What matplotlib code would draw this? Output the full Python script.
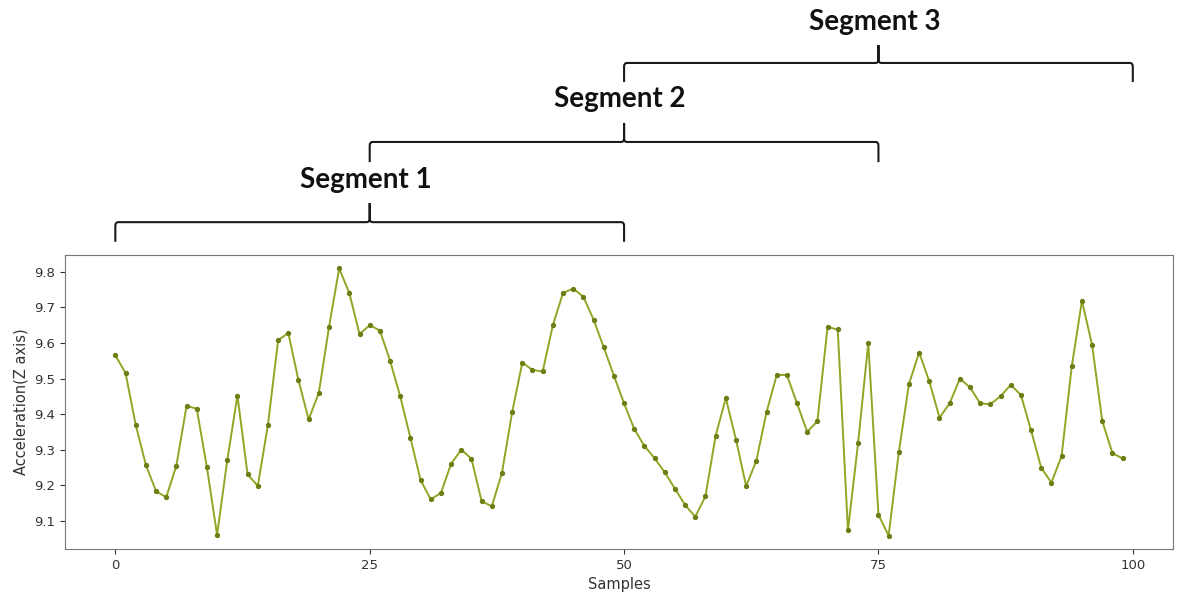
import numpy as np
import matplotlib
matplotlib.use("Agg")
import matplotlib.pyplot as plt
from matplotlib.path import Path
from matplotlib.patches import PathPatch
import matplotlib.transforms as mtransforms

# valeurs (accélération axe Z, 100 échantillons)
samples = list(range(100))
accel_z = [
    9.565, 9.516, 9.370, 9.257, 9.183, 9.166, 9.255, 9.423, 9.415, 9.250,
    9.060, 9.270, 9.452, 9.230, 9.198, 9.370, 9.608, 9.628, 9.495, 9.385,
    9.460, 9.645, 9.810, 9.740, 9.625, 9.650, 9.635, 9.550, 9.450, 9.333,
    9.214, 9.160, 9.178, 9.260, 9.300, 9.274, 9.155, 9.140, 9.235, 9.405,
    9.545, 9.524, 9.520, 9.650, 9.741, 9.753, 9.730, 9.666, 9.588, 9.508,
    9.430, 9.358, 9.310, 9.276, 9.236, 9.190, 9.144, 9.111, 9.169, 9.339,
    9.445, 9.328, 9.197, 9.269, 9.405, 9.510, 9.510, 9.430, 9.350, 9.380,
    9.645, 9.638, 9.073, 9.318, 9.600, 9.117, 9.058, 9.292, 9.485, 9.573,
    9.492, 9.390, 9.430, 9.500, 9.475, 9.430, 9.428, 9.450, 9.482, 9.454,
    9.354, 9.249, 9.207, 9.282, 9.534, 9.719, 9.594, 9.380, 9.290, 9.275,
]
x_ticks = [0, 25, 50, 75, 100]

# segments (fenêtres glissantes)
seg_labels = ["Segment 1", "Segment 2", "Segment 3"]
seg_starts = [0, 25, 50]
seg_ends = [50, 75, 100]

# hauteurs des accolades en fraction de figure : (bas, ligne, pointe, texte)
seg_levels = [(0.593, 0.626, 0.658, 0.6835),
              (0.727, 0.761, 0.793, 0.820),
              (0.862, 0.894, 0.924, 0.9495)]

fig = plt.figure(figsize=(11.77, 5.94), dpi=100)
ax = fig.add_axes([0.0552, 0.0758, 0.9414, 0.4949])

ax.plot(samples, accel_z, color="#93a524", lw=1.4, marker="o", ms=2.8,
        mfc="#6f7d14", mec="#6f7d14")
ax.set_xticks(x_ticks)
ax.set_xlabel("Samples", fontsize=10.5, color="#333333")
ax.set_ylabel("Acceleration(Z axis)", fontsize=10.5, color="#333333")
ax.tick_params(labelsize=9.5, colors="#333333")
for s in ax.spines.values():
    s.set_color("#777777")

# accolades au-dessus du graphique
trans = mtransforms.blended_transform_factory(ax.transData, fig.transFigure)
rx, ry = 0.3, 0.006
for lab, x0, x1, (yb, yl, yt, ytxt) in zip(seg_labels, seg_starts, seg_ends, seg_levels):
    xm = (x0 + x1) / 2
    verts = [(x0, yb), (x0, yl - ry), (x0, yl), (x0 + rx, yl),
             (xm - rx, yl), (xm, yl), (xm, yl + ry), (xm, yt),
             (xm, yl + ry), (xm, yl), (xm + rx, yl),
             (x1 - rx, yl), (x1, yl), (x1, yl - ry), (x1, yb)]
    codes = [Path.MOVETO, Path.LINETO, Path.CURVE3, Path.CURVE3,
             Path.LINETO, Path.CURVE3, Path.CURVE3, Path.LINETO,
             Path.LINETO, Path.CURVE3, Path.CURVE3,
             Path.LINETO, Path.CURVE3, Path.CURVE3, Path.LINETO]
    patch = PathPatch(Path(verts, codes), transform=trans, fill=False,
                      lw=1.5, ec="#1a1a1a", clip_on=False)
    fig.add_artist(patch)
    fig.text(xm - 0.4, ytxt, lab, transform=trans, ha="center", va="baseline",
             fontsize=20, fontweight="bold", family=["Lato", "DejaVu Sans"],
             color="#111111")

plt.savefig("out.png", dpi=100)
